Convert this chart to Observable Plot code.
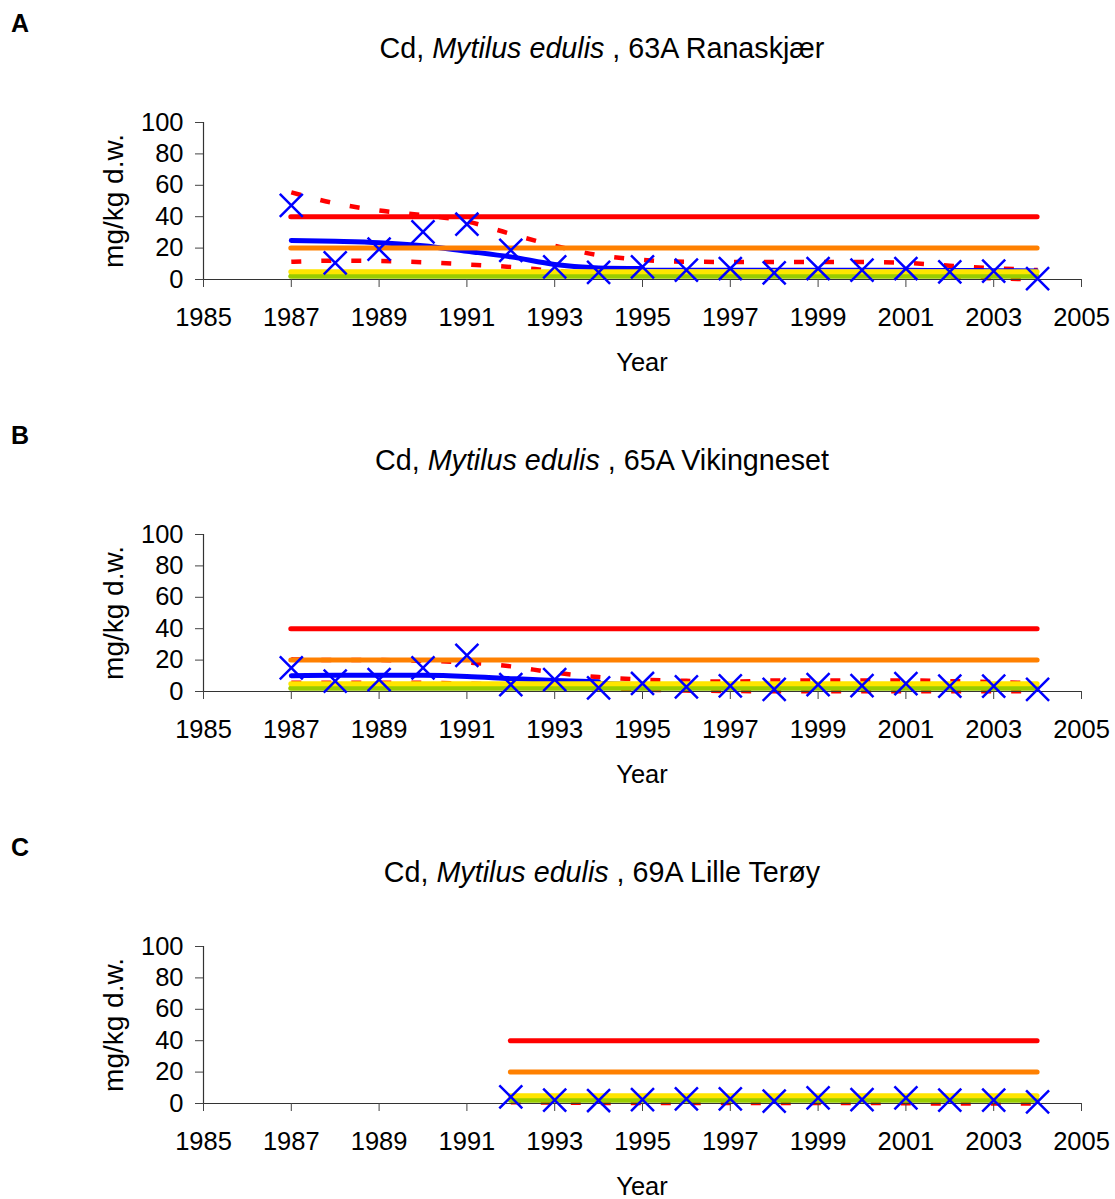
<!DOCTYPE html>
<html>
<head>
<meta charset="utf-8">
<script src="https://cdn.jsdelivr.net/npm/d3@7"></script>
<script src="https://cdn.jsdelivr.net/npm/@observablehq/plot@0.6"></script>
<style>
  html, body { margin: 0; padding: 0; background: #fff; }
  body { width: 1115px; height: 1199px; overflow: hidden; position: relative;
         font-family: "Liberation Sans", Arial, Helvetica, sans-serif; color: #000; }
  .panel { position: absolute; left: 0; width: 1115px; height: 412px; }
  .letter { position: absolute; left: 11px; top: 11px; font-weight: bold; font-size: 25px; line-height: 1; white-space: nowrap; }
  .title { position: absolute; left: 602px; top: 33.7px; transform: translateX(-50%); font-size: 28.7px; line-height: 1; white-space: nowrap; }
  .ytitle { position: absolute; left: 113.5px; top: 201px; transform: translate(-50%, -50%) rotate(-90deg); font-size: 28px; line-height: 1; white-space: nowrap; }
  .xtitle { position: absolute; left: 642px; top: 349.5px; transform: translateX(-50%); font-size: 25.5px; line-height: 1; white-space: nowrap; }
  .chart { position: absolute; left: 0; top: 100px; }
</style>
</head>
<body>
<script>
// ---------- data ----------
const panelLetters = ["A", "B", "C"];
const species = "Mytilus edulis";
const stations = ["63A Ranaskjær", "65A Vikingneset", "69A Lille Terøy"];
const yLabel = "mg/kg d.w.";
const xLabel = "Year";

const xTicks = [1985, 1987, 1989, 1991, 1993, 1995, 1997, 1999, 2001, 2003, 2005];
const yTicks = [0, 20, 40, 60, 80, 100];

// classification limits (classes I-V) and their line colours
const classLimits = [2, 5, 20, 40];
const classColors = ["#99cc00", "#ffe500", "#ff8000", "#ff0000"];

const yearsAB = [1987, 1988, 1989, 1990, 1991, 1992, 1993, 1994, 1995, 1996, 1997, 1998, 1999, 2000, 2001, 2002, 2003, 2004];
const yearsC = [1992, 1993, 1994, 1995, 1996, 1997, 1998, 1999, 2000, 2001, 2002, 2003, 2004];

// A: 63A Ranaskjær
const medianA = [47.2, 10.6, 19.3, 30.3, 35.2, 18.6, 8.0, 4.5, 8.0, 6.0, 7.0, 4.2, 7.0, 6.0, 7.0, 4.9, 5.3, 0.6];
const trendA  = [24.9, 24.3, 23.4, 21.5, 18.0, 14.4, 9.6, 7.4, 7.0, 6.9, 6.9, 6.9, 6.9, 6.9, 6.9, 6.8, 6.7, 6.5];
const upperA  = [55.5, 48.5, 44.0, 41.0, 37.0, 29.0, 21.5, 15.5, 12.5, 11.3, 11.2, 11.2, 11.2, 11.2, 10.6, 8.8, 7.2, 6.0];
const lowerA  = [11.3, 12.0, 11.8, 11.0, 9.6, 8.0, 5.5, 3.5, 3.0, 3.0, 3.0, 3.0, 3.0, 3.0, 2.8, 2.0, 0.8, 0.0];
const thickEndA = 1995;

// B: 65A Vikingneset
const medianB = [15.0, 6.6, 7.6, 15.0, 23.0, 4.4, 7.6, 2.3, 5.1, 2.9, 3.6, 1.3, 4.4, 3.8, 5.0, 3.4, 3.4, 1.3];
const trendB  = [10.0, 10.3, 10.4, 10.3, 9.6, 8.2, 7.0, 6.2, 5.4, 4.9, 4.6, 4.4, 4.3, 4.2, 4.1, 4.0, 3.9, 3.8];
const upperB  = [20.5, 20.0, 20.0, 19.5, 18.5, 16.0, 12.0, 9.2, 7.6, 6.8, 6.3, 7.0, 7.0, 7.0, 7.0, 6.6, 6.0, 5.2];
const lowerB  = [5.5, 5.5, 5.5, 5.5, 5.0, 4.0, 3.0, 2.0, 1.2, 0.6, 0.3, 0.2, 0.2, 0.2, 0.2, 0.2, 0.2, 0.2];
const thickEndB = 1994;

// C: 69A Lille Terøy
const medianC = [4.2, 2.1, 1.9, 2.5, 3.0, 3.0, 1.5, 3.6, 2.5, 3.6, 2.1, 2.1, 1.1];
const trendC  = [2.9, 2.8, 2.7, 2.7, 2.7, 2.7, 2.7, 2.7, 2.7, 2.6, 2.5, 2.4, 2.3];
const upperC  = [4.6, 4.4, 4.3, 4.3, 4.3, 4.3, 4.3, 4.3, 4.3, 4.2, 4.1, 4.0, 3.9];
const lowerC  = [0.8, 0.6, 0.4, 0.3, 0.3, 0.3, 0.3, 0.3, 0.3, 0.2, 0.0, 0.0, 0.0];
const thickEndC = null;

const panels = [
  {years: yearsAB, median: medianA, trend: trendA, upper: upperA, lower: lowerA, thickEnd: thickEndA},
  {years: yearsAB, median: medianB, trend: trendB, upper: upperB, lower: lowerB, thickEnd: thickEndB},
  {years: yearsC,  median: medianC, trend: trendC, upper: upperC, lower: lowerC, thickEnd: thickEndC}
];

// ---------- drawing ----------
const PANEL_H = 412;

panels.forEach((p, i) => {
  const div = document.createElement("div");
  div.className = "panel";
  div.style.top = (i * PANEL_H) + "px";
  document.body.appendChild(div);

  const letter = document.createElement("div");
  letter.className = "letter";
  letter.textContent = panelLetters[i];
  div.appendChild(letter);

  const title = document.createElement("div");
  title.className = "title";
  title.append("Cd, ");
  const em = document.createElement("i");
  em.textContent = species;
  title.append(em);
  title.append(" , " + stations[i]);
  div.appendChild(title);

  const yt = document.createElement("div");
  yt.className = "ytitle";
  yt.textContent = yLabel;
  div.appendChild(yt);

  const xt = document.createElement("div");
  xt.className = "xtitle";
  xt.textContent = xLabel;
  div.appendChild(xt);

  const rows = (vals, name) => p.years.map((y, k) => ({year: y, value: vals[k], series: name}));
  const medianRows = rows(p.median, "median");
  const bandRows = rows(p.upper, "upper").concat(rows(p.lower, "lower"));
  const trendRows = rows(p.trend, "trend");
  const thickRows = p.thickEnd == null ? [] : trendRows.filter(d => d.year <= p.thickEnd);
  const thinRows = p.thickEnd == null ? trendRows : trendRows.filter(d => d.year >= p.thickEnd);
  const x1 = p.years[0], x2 = p.years[p.years.length - 1];
  const refRows = classLimits.map((lv, k) => ({level: lv, x1, x2, color: classColors[k]}));

  const chart = Plot.plot({
    width: 1115,
    height: 280,
    marginLeft: 203,
    marginRight: 34,
    marginTop: 22,
    marginBottom: 101,
    style: {fontFamily: '"Liberation Sans", Arial, Helvetica, sans-serif', fontSize: "25.5px", color: "#000", background: "transparent", overflow: "visible"},
    x: {domain: [1985, 2005]},
    y: {domain: [0, 100]},
    color: {type: "identity"},
    marks: [
      Plot.line(bandRows, {x: "year", y: "value", z: "series", stroke: "#ff0000", strokeWidth: 4.5,
        strokeDasharray: "10,20", strokeLinecap: "butt", curve: "monotone-x"}),
      Plot.line(thinRows, {x: "year", y: "value", stroke: "#0000ff", strokeWidth: 1.6, curve: "monotone-x"}),
      Plot.line(thickRows, {x: "year", y: "value", stroke: "#0000ff", strokeWidth: 5, curve: "monotone-x"}),
      Plot.ruleY(refRows, {y: "level", x1: "x1", x2: "x2", stroke: "color", strokeWidth: 5, strokeLinecap: "round"}),
      Plot.ruleY([0], {stroke: "#333", strokeWidth: 1.2}),
      Plot.ruleX([1985], {stroke: "#333", strokeWidth: 1.2}),
      Plot.axisX({ticks: xTicks, tickSize: 8, tickPadding: 20, tickFormat: d => String(d), label: null, stroke: "#444"}),
      Plot.axisY({ticks: yTicks, tickSize: 8, tickPadding: 12, tickFormat: d => String(d), label: null, stroke: "#444"}),
      Plot.dot(medianRows, {x: "year", y: "value", symbol: "times", r: 10.5, stroke: "#0000ff", strokeWidth: 2.5})
    ]
  });
  chart.classList.add("chart");
  div.appendChild(chart);
});
</script>
</body>
</html>
